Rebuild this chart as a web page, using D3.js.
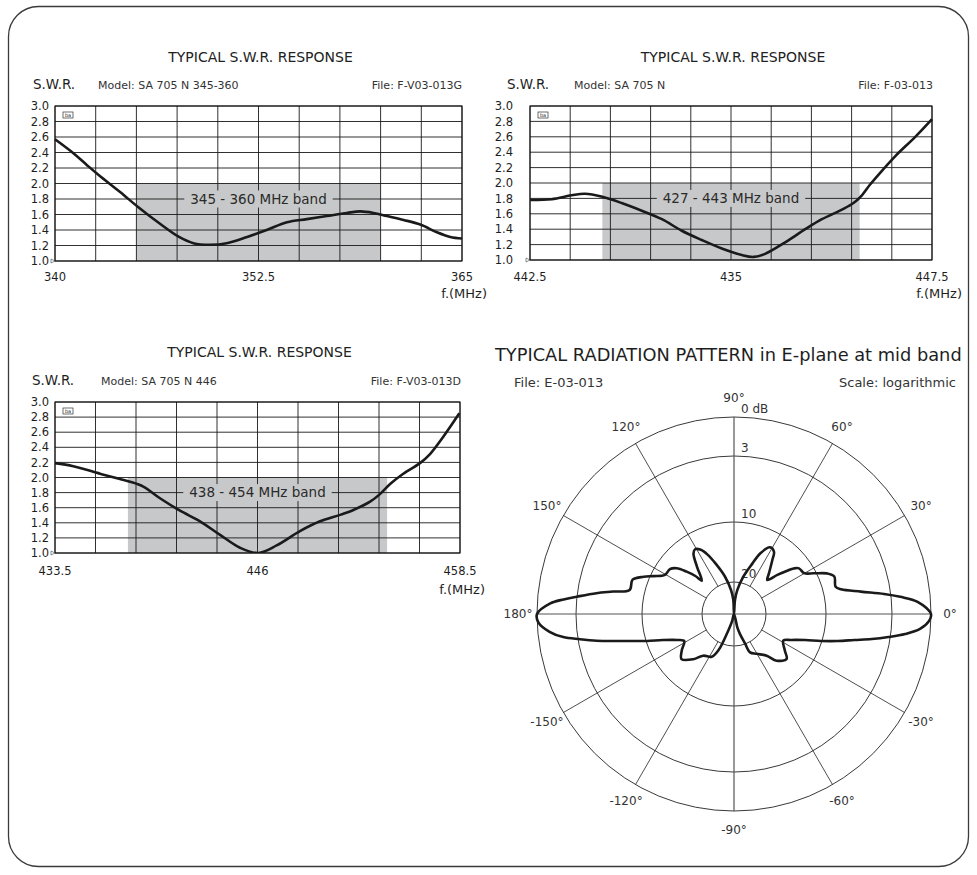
<!DOCTYPE html>
<html><head><meta charset="utf-8">
<script src="https://cdn.jsdelivr.net/npm/d3@7/dist/d3.min.js"></script>
<style>
body{margin:0;background:#fff}
text{font-family:"DejaVu Sans",Verdana,sans-serif;fill:#1e1e1e}
</style>
</head><body>
<svg id="c" width="977" height="875"></svg>
<script>
// ---------- DATA ----------
const swrTitle = "TYPICAL S.W.R. RESPONSE";
const swrYTicks = [1.0,1.2,1.4,1.6,1.8,2.0,2.2,2.4,2.6,2.8,3.0];

const swr1Model = "Model:  SA 705 N 345-360";
const swr1File  = "File:  F-V03-013G";
const swr1Domain = [340, 365];
const swr1TickValues = [340, 352.5, 365];
const swr1TickLabels = ["340", "352.5", "365"];
const swr1Band = [345, 360];
const swr1BandLabel = "345 - 360 MHz band";
const swr1Freq = [340, 341.13, 341.95, 342.68, 344.0, 345.14, 346.45, 347.62, 348.5, 349.53, 350.55, 351.8, 353.0, 354.25, 355.47, 356.7, 357.93, 358.75, 359.57, 360.39, 361.41, 362.44, 363.46, 364.28, 365];
const swr1Vals = [2.57, 2.39, 2.24, 2.11, 1.89, 1.69, 1.48, 1.31, 1.23, 1.21, 1.23, 1.31, 1.40, 1.50, 1.54, 1.58, 1.62, 1.64, 1.62, 1.58, 1.53, 1.47, 1.37, 1.31, 1.29];

const swr2Model = "Model:  SA 705 N";
const swr2File  = "File:  F-03-013";
const swr2Domain = [422.5, 447.5];
const swr2TickValues = [422.5, 435, 447.5];
const swr2TickLabels = ["442.5", "435", "447.5"];
const swr2Band = [427, 443];
const swr2BandLabel = "427 - 443 MHz band";
const swr2Freq = [422.5, 423.85, 425.09, 425.92, 427.0, 428.2, 429.45, 430.7, 431.94, 433.18, 434.43, 435.67, 436.4, 437.12, 438.37, 439.62, 440.65, 441.9, 442.62, 443.14, 443.65, 444.18, 445.22, 446.46, 447.5];
const swr2Vals = [1.78, 1.79, 1.84, 1.86, 1.82, 1.74, 1.64, 1.53, 1.38, 1.26, 1.15, 1.065, 1.04, 1.08, 1.23, 1.40, 1.53, 1.655, 1.74, 1.84, 1.98, 2.11, 2.35, 2.60, 2.83];

const swr3Model = "Model:  SA 705 N 446";
const swr3File  = "File:  F-V03-013D";
const swr3Domain = [433.5, 458.5];
const swr3TickValues = [433.5, 446, 458.5];
const swr3TickLabels = ["433.5", "446", "458.5"];
const swr3Band = [438, 454];
const swr3BandLabel = "438 - 454 MHz band";
const swr3Freq = [433.5, 434.63, 436.28, 437.51, 438.13, 438.95, 439.98, 441.22, 442.45, 443.69, 444.92, 446.05, 447.18, 448.62, 449.86, 451.1, 451.92, 452.95, 453.56, 454.22, 455.0, 456.03, 456.65, 457.47, 458.46];
const swr3Vals = [2.19, 2.15, 2.05, 1.98, 1.945, 1.88, 1.725, 1.56, 1.42, 1.24, 1.07, 1.00, 1.10, 1.29, 1.42, 1.505, 1.57, 1.68, 1.78, 1.92, 2.05, 2.19, 2.31, 2.54, 2.85];

const unitLabel = "f.(MHz)";

const polarTitle = "TYPICAL RADIATION PATTERN in E-plane at mid band";
const polarFile = "File:  E-03-013";
const polarScaleText = "Scale: logarithmic";
const ringDb = [0, 3, 10, 20];
const ringLabels = ["0  dB", "3", "10", "20"];
const angleTicks = [90, 60, 30, 0, -30, -60, -90, -120, -150, 180, 150, 120];
const angleLabels = ["90°", "60°", "30°", "0°", "-30°", "-60°", "-90°", "-120°", "-150°", "180°", "150°", "120°"];
// pattern: angle (deg, CCW from 0° at right) and level below peak (dB)
const patternAngle = [0, 3.8, 5.9, 7.6, 10, 13, 15, 20.5, 23.6, 27, 30.2, 35.1, 37.3, 39.1, 42, 45.6, 49.3, 54.6, 57.3, 61.6, 66.5, 70, 76, 82.2, 86, 90, 92.9, 97.1, 103.6, 110, 114, 117.7, 121, 123.8, 128, 134, 135.5, 138.2, 141.4, 145, 150.5, 154.8, 157.6, 161.3, 167, 169.5, 171.4, 173.7, 175.1, 176.7, 180, 182.5, 185.5, 187.7, 189.3, 191, 192.7, 194.6, 197.2, 200.1, 204.5, 208.4, 215, 220.7, 228, 233.6, 242.4, 246.8, 250, 255, 270, 284, 286.7, 290.5, 292.7, 299.6, 308.1, 312.4, 319.5, 324.3, 331.6, 335.5, 339.9, 342.8, 345.4, 347.8, 349.7, 351.5, 353.3, 355.4, 357.9];
const patternDb = [0, 1.0, 2.3, 3.7, 6.1, 8.1, 8.6, 8.4, 9.0, 10.4, 11.8, 12.1, 12.8, 13.9, 15.6, 17.4, 16.4, 14.3, 13.0, 12.7, 14.3, 16.4, 18.9, 24.9, 31.2, 40, 31.2, 24.9, 18.9, 16.4, 14.5, 13.2, 12.75, 13.2, 15.3, 17.6, 16.3, 14.75, 13.1, 12.3, 12.1, 10.5, 9.4, 8.4, 8.4, 6.7, 5.0, 3.0, 2.0, 1.0, 0, 0.1, 0.9, 1.9, 3.2, 4.9, 6.7, 8.4, 10.15, 12.7, 14.9, 15.9, 14.7, 13.8, 15.2, 16.7, 17.3, 18.8, 26.7, 35.6, 40, 31.4, 26.9, 20.5, 18.4, 17.7, 16.5, 14.8, 13.8, 14.9, 16.0, 14.9, 12.7, 10.15, 8.4, 6.7, 4.9, 3.2, 1.9, 0.8, 0.15];

// ---------- LAYOUT ----------
const svg = d3.select("#c");
svg.append("rect").attr("x", 8.5).attr("y", 6.5).attr("width", 960).attr("height", 860)
  .attr("rx", 30).attr("ry", 30).attr("fill", "#fff").attr("stroke", "#3a3a3a").attr("stroke-width", 1.3);

const BAND = "#c7c8c9";

const panels = [
  {x0:55, x1:462, y0:106, y1:261, titleY:62, headY:89, swrX:33, modelX:98, fileRight:462, yGap:6, tickY:281, unitRight:487, unitY:298,
   domain:swr1Domain, tv:swr1TickValues, tl:swr1TickLabels, band:swr1Band, bandLabel:swr1BandLabel, f:swr1Freq, v:swr1Vals, model:swr1Model, file:swr1File},
  {x0:530, x1:932, y0:106, y1:260, titleY:62, headY:89, swrX:507, modelX:574, fileRight:933, yGap:17, tickY:281, unitRight:962, unitY:298,
   domain:swr2Domain, tv:swr2TickValues, tl:swr2TickLabels, band:swr2Band, bandLabel:swr2BandLabel, f:swr2Freq, v:swr2Vals, model:swr2Model, file:swr2File},
  {x0:55, x1:460, y0:402, y1:553, titleY:357, headY:385, swrX:32, modelX:101, fileRight:461, yGap:6, tickY:575, unitRight:485, unitY:594,
   domain:swr3Domain, tv:swr3TickValues, tl:swr3TickLabels, band:swr3Band, bandLabel:swr3BandLabel, f:swr3Freq, v:swr3Vals, model:swr3Model, file:swr3File}
];

panels.forEach((p, pi) => {
  const g = svg.append("g");
  const x = d3.scaleLinear().domain(p.domain).range([p.x0, p.x1]);
  const y = d3.scaleLinear().domain([1, 3]).range([p.y1, p.y0]);

  g.append("text").attr("x", (p.x0 + p.x1) / 2 + 2).attr("y", p.titleY).attr("text-anchor", "middle")
    .style("font-size", "14px").style("fill", "#222").text(swrTitle);
  g.append("text").attr("x", p.swrX).attr("y", p.headY).style("font-size", "13.5px").text("S.W.R.");
  g.append("text").attr("x", p.modelX).attr("y", p.headY).style("font-size", "11px").style("fill", "#333").text(p.model);
  g.append("text").attr("x", p.fileRight).attr("y", p.headY).attr("text-anchor", "end")
    .style("font-size", "11px").style("fill", "#333").text(p.file);

  // band
  g.append("rect").attr("x", x(p.band[0])).attr("y", y(2)).attr("width", x(p.band[1]) - x(p.band[0]))
    .attr("height", y(1) - y(2)).attr("fill", BAND);

  // grid
  const xGrid = d3.range(p.domain[0], p.domain[1] + 0.001, (p.domain[1] - p.domain[0]) / 10);
  g.selectAll(".vg").data(xGrid).join("line")
    .attr("x1", d => x(d)).attr("x2", d => x(d)).attr("y1", p.y0).attr("y2", p.y1)
    .attr("stroke", "#1a1a1a").attr("stroke-width", 0.9);
  g.selectAll(".hg").data(swrYTicks).join("line")
    .attr("x1", p.x0).attr("x2", p.x1).attr("y1", d => y(d)).attr("y2", d => y(d))
    .attr("stroke", "#1a1a1a").attr("stroke-width", 0.9);

  // band label with box
  const cxm = (p.x0 + p.x1) / 2;
  const lbl = g.append("text").attr("x", cxm).attr("y", y(1.8)).attr("dy", "0.36em").attr("text-anchor", "middle")
    .style("font-size", "13.5px").style("fill", "#2a2a2a").text(p.bandLabel);
  const w = lbl.node().getComputedTextLength();
  g.insert("rect", () => lbl.node()).attr("x", cxm - w / 2 - 6).attr("y", y(1.8) - 8.5)
    .attr("width", w + 12).attr("height", 17).attr("fill", BAND);

  // y labels
  g.selectAll(".yl").data(swrYTicks).join("text")
    .attr("x", p.x0 - p.yGap).attr("y", d => y(d)).attr("dy", "0.36em").attr("text-anchor", "end")
    .style("font-size", "11.5px").text(d => d.toFixed(1));
  // x labels
  g.selectAll(".xl").data(p.tv).join("text")
    .attr("x", d => x(d)).attr("y", p.tickY).attr("text-anchor", "middle")
    .style("font-size", "11.5px").text((d, i) => p.tl[i]);
  g.append("text").attr("x", p.unitRight).attr("y", p.unitY).attr("text-anchor", "end")
    .style("font-size", "13px").text(unitLabel);

  // border
  g.append("rect").attr("x", p.x0).attr("y", p.y0).attr("width", p.x1 - p.x0).attr("height", p.y1 - p.y0)
    .attr("fill", "none").attr("stroke", "#111").attr("stroke-width", 1);

  // small logo and marker
  g.append("rect").attr("x", p.x0 + 8).attr("y", p.y0 + 6).attr("width", 10).attr("height", 6)
    .attr("fill", "#fff").attr("stroke", "#333").attr("stroke-width", 0.7);
  g.append("text").attr("x", p.x0 + 13).attr("y", p.y0 + 11).attr("text-anchor", "middle")
    .style("font-size", "5px").text("ba");
  g.append("path").attr("d", `M${p.x0 - 4},${p.y1 - 2}L${p.x0},${p.y1}L${p.x0 - 4},${p.y1 + 2}Z`)
    .attr("fill", "none").attr("stroke", "#444").attr("stroke-width", 0.6);

  // curve (clipped to plot)
  const clipId = "clip" + pi;
  g.append("clipPath").attr("id", clipId).append("rect")
    .attr("x", p.x0 - 2).attr("y", p.y0 - 2).attr("width", p.x1 - p.x0 + 4).attr("height", p.y1 - p.y0 + 2);
  const line = d3.line().x((d, i) => x(p.f[i])).y(d => y(d)).curve(d3.curveCatmullRom.alpha(0.5));
  g.append("path").datum(p.v).attr("d", line).attr("fill", "none").attr("clip-path", `url(#${clipId})`)
    .attr("stroke", "#1a1a1a").attr("stroke-width", 2.6).attr("stroke-linejoin", "round");
});

// ---------- POLAR ----------
const cx = 734, cy = 614;
const r = d3.scaleLinear().domain([0, 3, 10, 20, 40]).range([197, 158, 92, 32, 0]).clamp(true);
const pg = svg.append("g");
pg.append("text").attr("x", 495).attr("y", 361).style("font-size", "17.8px").text(polarTitle);
pg.append("text").attr("x", 514).attr("y", 387).style("font-size", "13px").style("fill", "#333").text(polarFile);
pg.append("text").attr("x", 956).attr("y", 387).attr("text-anchor", "end").style("font-size", "13px").style("fill", "#333").text(polarScaleText);

const gp = pg.append("g").attr("transform", `translate(${cx},${cy})`);
gp.selectAll(".ring").data(ringDb).join("circle").attr("r", d => r(d))
  .attr("fill", "none").attr("stroke", "#222").attr("stroke-width", 0.9);
// spokes
const spokes = [30, 60, 120, 150, 210, 240, 300, 330];
gp.selectAll(".sp").data(spokes).join("line")
  .attr("x1", d => r(20) * Math.cos(d * Math.PI / 180)).attr("y1", d => -r(20) * Math.sin(d * Math.PI / 180))
  .attr("x2", d => r(0) * Math.cos(d * Math.PI / 180)).attr("y2", d => -r(0) * Math.sin(d * Math.PI / 180))
  .attr("stroke", "#222").attr("stroke-width", 0.8);
const axes = [0, 90];
gp.selectAll(".ax").data(axes).join("line")
  .attr("x1", d => r(0) * Math.cos(d * Math.PI / 180)).attr("y1", d => -r(0) * Math.sin(d * Math.PI / 180))
  .attr("x2", d => -r(0) * Math.cos(d * Math.PI / 180)).attr("y2", d => r(0) * Math.sin(d * Math.PI / 180))
  .attr("stroke", "#555").attr("stroke-width", 1.2);
// ring labels
gp.selectAll(".rl").data(ringDb).join("text")
  .attr("x", 7).attr("y", d => -r(d) - 4)
  .style("font-size", "12px").style("fill", "#333").text((d, i) => ringLabels[i]);
// angle labels
const LR = 216;
gp.selectAll(".al").data(angleTicks).join("text")
  .attr("x", d => LR * Math.cos(d * Math.PI / 180))
  .attr("y", d => -LR * Math.sin(d * Math.PI / 180))
  .attr("dy", "0.36em").attr("text-anchor", "middle")
  .style("font-size", "12px").style("fill", "#333").text((d, i) => angleLabels[i]);
// pattern
const pts = patternAngle.map((a, i) => ({a, db: patternDb[i]}));
const radial = d3.lineRadial().angle(d => (90 - d.a) * Math.PI / 180).radius(d => r(d.db))
  .curve(d3.curveCatmullRomClosed.alpha(0.5));
gp.append("path").datum(pts).attr("d", radial).attr("fill", "none")
  .attr("stroke", "#1a1a1a").attr("stroke-width", 2.6).attr("stroke-linejoin", "round");
</script>
</body></html>
